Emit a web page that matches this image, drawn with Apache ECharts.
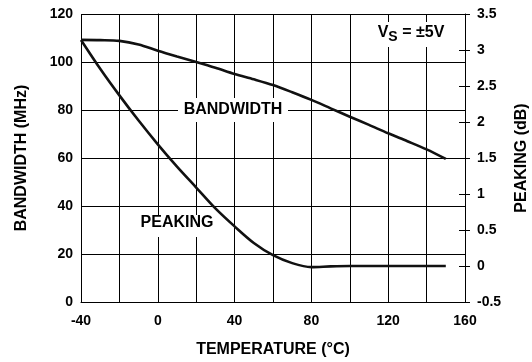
<!DOCTYPE html>
<html>
<head>
<meta charset="utf-8">
<script src="https://cdn.jsdelivr.net/npm/echarts@6/dist/echarts.min.js"></script>
<style>
  html, body { margin: 0; padding: 0; background: #fff; }
  #chart { width: 532px; height: 362px; }
</style>
</head>
<body>
<div id="chart"></div>
<script>
// temperature points (°C)
const temps = [-40, -30, -20, -10, 0, 10, 20, 30, 40, 50, 60, 70, 80, 90, 100, 110, 120, 130, 140, 150]
// bandwidth (MHz), left axis
const bandwidth = [109.2, 109.1, 108.8, 107.3, 104.7, 102.3, 100.0, 97.6, 95.0, 92.8, 90.4, 87.4, 84.2, 80.7, 77.2, 73.8, 70.3, 67.0, 63.6, 59.6]
// peaking (dB), right axis
const peaking = [3.14, 2.74, 2.37, 2.02, 1.69, 1.38, 1.09, 0.80, 0.55, 0.32, 0.15, 0.04, -0.015, -0.005, 0.0, 0.0, 0.0, 0.0, 0.0, 0.0]

const xTickLabels = [-40, 0, 40, 80, 120, 160]

const font = 'Liberation Sans, Arial, sans-serif'
const black = '#000'

function pairs (xs, ys) {
  return xs.map((x, i) => [x, ys[i]])
}

const chart = echarts.init(document.getElementById('chart'))

const option = {
  animation: false,
  backgroundColor: '#fff',
  grid: {
    left: 81,
    right: 67,
    top: 14,
    bottom: 60,
    outerBoundsMode: 'none'
  },
  xAxis: {
    type: 'value',
    min: -40,
    max: 160,
    interval: 20,
    name: 'TEMPERATURE (°C)',
    nameLocation: 'middle',
    nameGap: 40,
    nameTextStyle: { fontFamily: font, fontWeight: 'bold', fontSize: 16, color: black },
    axisLine: { show: true, lineStyle: { color: black, width: 1 } },
    axisTick: { show: false },
    axisLabel: {
      margin: 12,
      fontFamily: font,
      fontWeight: 'bold',
      fontSize: 14,
      color: black,
      formatter: (v) => xTickLabels.includes(v) ? String(v) : ''
    },
    splitLine: { show: true, lineStyle: { color: black, width: 1 } }
  },
  yAxis: [
    {
      type: 'value',
      position: 'left',
      min: 0,
      max: 120,
      interval: 20,
      name: 'BANDWIDTH (MHz)',
      nameLocation: 'middle',
      nameGap: 51,
      nameTextStyle: { fontFamily: font, fontWeight: 'bold', fontSize: 16, color: black },
      axisLine: { show: true, lineStyle: { color: black, width: 1 } },
      axisTick: { show: false },
      axisLabel: { margin: 8, fontFamily: font, fontWeight: 'bold', fontSize: 14, color: black },
      splitLine: { show: true, lineStyle: { color: black, width: 1 } }
    },
    {
      type: 'value',
      position: 'right',
      min: -0.5,
      max: 3.5,
      interval: 0.5,
      name: 'PEAKING (dB)',
      nameLocation: 'middle',
      nameRotate: 90,
      nameGap: 49,
      nameTextStyle: { fontFamily: font, fontWeight: 'bold', fontSize: 16, color: black },
      axisLine: { show: true, lineStyle: { color: black, width: 1 } },
      axisTick: { show: true, inside: false, length: 5, lineStyle: { color: black, width: 1 } },
      axisLabel: { margin: 12, fontFamily: font, fontWeight: 'bold', fontSize: 14, color: black },
      splitLine: { show: false }
    },
    {
      // inner half of the right ticks
      type: 'value',
      position: 'right',
      min: -0.5,
      max: 3.5,
      interval: 0.5,
      axisLine: { show: false },
      axisTick: { show: true, inside: true, length: 6, lineStyle: { color: black, width: 1 } },
      axisLabel: { show: false },
      splitLine: { show: false }
    }
  ],
  series: [
    {
      name: 'BANDWIDTH',
      type: 'line',
      yAxisIndex: 0,
      data: pairs(temps, bandwidth),
      smooth: 0.3,
      symbol: 'none',
      lineStyle: { color: '#111', width: 2.6 },
      z: 5
    },
    {
      name: 'PEAKING',
      type: 'line',
      yAxisIndex: 1,
      data: pairs(temps, peaking),
      smooth: 0.3,
      symbol: 'none',
      lineStyle: { color: '#111', width: 2.6 },
      z: 5
    }
  ],
  graphic: [
    // white boxes behind the in-plot labels (break the grid lines)
    { type: 'rect', shape: { x: 178, y: 98, width: 110, height: 24 }, style: { fill: '#fff' }, z: 3 },
    { type: 'rect', shape: { x: 137, y: 215, width: 79, height: 22 }, style: { fill: '#fff' }, z: 3 },
    { type: 'rect', shape: { x: 372, y: 22, width: 78, height: 25 }, style: { fill: '#fff' }, z: 3 },
    {
      type: 'text', x: 233, y: 110, z: 4,
      style: { text: 'BANDWIDTH', fill: black, font: 'bold 16px ' + font, textAlign: 'center', textVerticalAlign: 'middle' }
    },
    {
      type: 'text', x: 177, y: 223, z: 4,
      style: { text: 'PEAKING', fill: black, font: 'bold 16px ' + font, textAlign: 'center', textVerticalAlign: 'middle' }
    },
    {
      type: 'text', x: 411, y: 33, z: 4,
      style: {
        text: '{v|V}{s|S}{v| = ±5V}',
        textAlign: 'center',
        textVerticalAlign: 'middle',
        rich: {
          v: { fontFamily: font, fontWeight: 'bold', fontSize: 16, fill: black, color: black },
          s: { fontFamily: font, fontWeight: 'bold', fontSize: 14, fill: black, color: black, padding: [8, 0, 0, 0] }
        }
      }
    }
  ]
}

chart.setOption(option)
</script>
</body>
</html>
